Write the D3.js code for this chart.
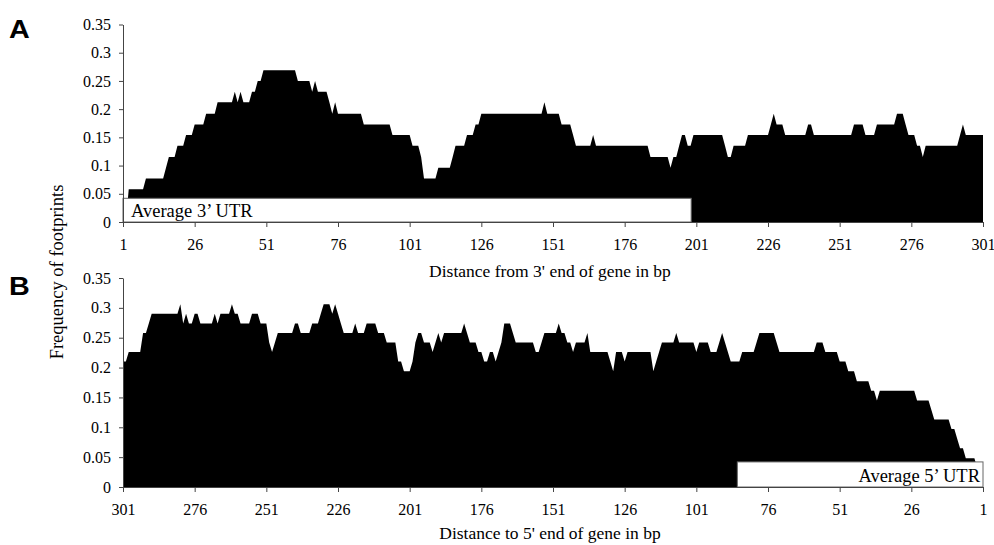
<!DOCTYPE html>
<html>
<head>
<meta charset="utf-8">
<script src="https://cdn.jsdelivr.net/npm/d3@7"></script>
<style>
  body { margin: 0; background: #fff; }
  svg { display: block; }
  .tick text { font-family: "Liberation Serif", "Times New Roman", serif; font-size: 16px; fill: #000; }
  .domain, .tick line { stroke: #444; }
</style>
</head>
<body>
<svg id="chart" width="994" height="545"></svg>
<script>
// y axis ticks, shared by both panels
var yTicks = [0, 0.05, 0.1, 0.15, 0.2, 0.25, 0.3, 0.35];
var yTickLabels = ["0", "0.05", "0.1", "0.15", "0.2", "0.25", "0.3", "0.35"];

// x ticks (bp)
var xTicksA = [1, 26, 51, 76, 101, 126, 151, 176, 201, 226, 251, 276, 301];
var xTicksB = [301, 276, 251, 226, 201, 176, 151, 126, 101, 76, 51, 26, 1];

// A: frequency of footprints at 1..301 bp from the 3' end
var freqA = [
  0, 0, 0.058, 0.058, 0.058, 0.058, 0.058, 0.058, 0.077, 0.077,
  0.077, 0.077, 0.077, 0.077, 0.077, 0.096, 0.115, 0.115, 0.115, 0.135,
  0.135, 0.135, 0.154, 0.154, 0.154, 0.173, 0.173, 0.173, 0.173, 0.192,
  0.192, 0.192, 0.192, 0.212, 0.212, 0.212, 0.212, 0.212, 0.212, 0.231,
  0.212, 0.231, 0.212, 0.212, 0.212, 0.231, 0.231, 0.25, 0.25, 0.269,
  0.269, 0.269, 0.269, 0.269, 0.269, 0.269, 0.269, 0.269, 0.269, 0.269,
  0.269, 0.25, 0.25, 0.25, 0.25, 0.25, 0.231, 0.25, 0.231, 0.231,
  0.231, 0.231, 0.212, 0.192, 0.212, 0.192, 0.192, 0.192, 0.192, 0.192,
  0.192, 0.192, 0.192, 0.192, 0.173, 0.173, 0.173, 0.173, 0.173, 0.173,
  0.173, 0.173, 0.173, 0.173, 0.154, 0.154, 0.154, 0.154, 0.154, 0.154,
  0.154, 0.135, 0.135, 0.135, 0.115, 0.077, 0.077, 0.077, 0.077, 0.077,
  0.096, 0.096, 0.096, 0.096, 0.096, 0.115, 0.135, 0.135, 0.135, 0.135,
  0.154, 0.154, 0.154, 0.173, 0.173, 0.192, 0.192, 0.192, 0.192, 0.192,
  0.192, 0.192, 0.192, 0.192, 0.192, 0.192, 0.192, 0.192, 0.192, 0.192,
  0.192, 0.192, 0.192, 0.192, 0.192, 0.192, 0.192, 0.212, 0.192, 0.192,
  0.192, 0.192, 0.192, 0.173, 0.173, 0.173, 0.173, 0.154, 0.135, 0.135,
  0.135, 0.135, 0.135, 0.135, 0.154, 0.135, 0.135, 0.135, 0.135, 0.135,
  0.135, 0.135, 0.135, 0.135, 0.135, 0.135, 0.135, 0.135, 0.135, 0.135,
  0.135, 0.135, 0.135, 0.135, 0.115, 0.115, 0.115, 0.115, 0.115, 0.115,
  0.115, 0.096, 0.115, 0.115, 0.135, 0.154, 0.154, 0.135, 0.135, 0.154,
  0.154, 0.154, 0.154, 0.154, 0.154, 0.154, 0.154, 0.154, 0.154, 0.154,
  0.135, 0.115, 0.115, 0.135, 0.135, 0.135, 0.135, 0.135, 0.154, 0.154,
  0.154, 0.154, 0.154, 0.154, 0.154, 0.154, 0.173, 0.192, 0.173, 0.173,
  0.173, 0.154, 0.154, 0.154, 0.154, 0.154, 0.154, 0.154, 0.154, 0.173,
  0.173, 0.154, 0.154, 0.154, 0.154, 0.154, 0.154, 0.154, 0.154, 0.154,
  0.154, 0.154, 0.154, 0.154, 0.154, 0.173, 0.173, 0.173, 0.173, 0.154,
  0.154, 0.154, 0.154, 0.173, 0.173, 0.173, 0.173, 0.173, 0.173, 0.173,
  0.192, 0.192, 0.192, 0.173, 0.154, 0.154, 0.154, 0.135, 0.135, 0.115,
  0.135, 0.135, 0.135, 0.135, 0.135, 0.135, 0.135, 0.135, 0.135, 0.135,
  0.135, 0.135, 0.154, 0.173, 0.154, 0.154, 0.154, 0.154, 0.154, 0.154,
  0.154
];

// B: frequency of footprints at 301..1 bp to the 5' end (left to right)
var freqB = [
  0.21, 0.21, 0.226, 0.226, 0.226, 0.226, 0.226, 0.258, 0.258, 0.274,
  0.29, 0.29, 0.29, 0.29, 0.29, 0.29, 0.29, 0.29, 0.29, 0.29,
  0.306, 0.274, 0.29, 0.274, 0.274, 0.29, 0.29, 0.274, 0.274, 0.274,
  0.274, 0.274, 0.29, 0.274, 0.29, 0.29, 0.29, 0.29, 0.306, 0.29,
  0.29, 0.274, 0.274, 0.274, 0.274, 0.29, 0.29, 0.29, 0.274, 0.274,
  0.274, 0.242, 0.226, 0.242, 0.258, 0.258, 0.258, 0.258, 0.258, 0.258,
  0.274, 0.274, 0.258, 0.258, 0.258, 0.258, 0.274, 0.274, 0.274, 0.29,
  0.306, 0.306, 0.306, 0.29, 0.306, 0.29, 0.274, 0.258, 0.258, 0.258,
  0.258, 0.274, 0.258, 0.258, 0.258, 0.274, 0.274, 0.274, 0.274, 0.258,
  0.258, 0.258, 0.242, 0.242, 0.242, 0.242, 0.21, 0.21, 0.194, 0.194,
  0.194, 0.21, 0.242, 0.258, 0.258, 0.242, 0.242, 0.242, 0.226, 0.242,
  0.258, 0.242, 0.258, 0.258, 0.258, 0.258, 0.258, 0.258, 0.258, 0.274,
  0.258, 0.242, 0.242, 0.242, 0.226, 0.226, 0.21, 0.21, 0.226, 0.226,
  0.21, 0.226, 0.242, 0.274, 0.274, 0.274, 0.258, 0.242, 0.242, 0.242,
  0.242, 0.242, 0.242, 0.242, 0.226, 0.226, 0.242, 0.258, 0.258, 0.258,
  0.258, 0.258, 0.274, 0.258, 0.258, 0.242, 0.242, 0.226, 0.242, 0.242,
  0.242, 0.242, 0.258, 0.226, 0.226, 0.226, 0.226, 0.226, 0.226, 0.226,
  0.21, 0.194, 0.226, 0.226, 0.226, 0.21, 0.226, 0.226, 0.226, 0.226,
  0.226, 0.226, 0.226, 0.226, 0.226, 0.194, 0.21, 0.226, 0.242, 0.242,
  0.242, 0.242, 0.242, 0.258, 0.242, 0.242, 0.242, 0.242, 0.242, 0.242,
  0.226, 0.242, 0.242, 0.242, 0.242, 0.226, 0.226, 0.226, 0.242, 0.258,
  0.242, 0.226, 0.21, 0.21, 0.21, 0.21, 0.226, 0.226, 0.226, 0.226,
  0.226, 0.242, 0.258, 0.258, 0.258, 0.258, 0.258, 0.258, 0.242, 0.226,
  0.226, 0.226, 0.226, 0.226, 0.226, 0.226, 0.226, 0.226, 0.226, 0.226,
  0.226, 0.226, 0.242, 0.242, 0.242, 0.226, 0.226, 0.226, 0.226, 0.226,
  0.21, 0.21, 0.21, 0.194, 0.194, 0.194, 0.177, 0.177, 0.177, 0.177,
  0.177, 0.161, 0.161, 0.145, 0.161, 0.161, 0.161, 0.161, 0.161, 0.161,
  0.161, 0.161, 0.161, 0.161, 0.161, 0.161, 0.161, 0.145, 0.145, 0.145,
  0.145, 0.145, 0.129, 0.113, 0.113, 0.113, 0.113, 0.113, 0.113, 0.097,
  0.097, 0.081, 0.065, 0.065, 0.048, 0.048, 0.048, 0.048, 0.032, 0.032,
  0.016
];

// average UTR boxes (bp span, frequency height)
var utrA = [1, 199.2];
var utrB = [86.7, 1];
var utrHeight = 0.042;

var svg = d3.select("#chart");
var serif = '"Liberation Serif", "Times New Roman", serif';

function drawPanel(p) {
  var x = d3.scaleLinear().domain(p.domain).range([123, 983]);
  var y = d3.scaleLinear().domain([0, 0.35]).range([p.y0, p.yTop]);
  var g = svg.append("g");

  var area = d3.area()
    .x(function (d, i) { return x(p.pos[i]); })
    .y0(y(0))
    .y1(function (d) { return y(d); });

  g.append("path")
    .datum(p.values)
    .attr("d", area)
    .attr("fill", "#000");

  var bx0 = Math.min(x(p.utr[0]), x(p.utr[1]));
  var bx1 = Math.max(x(p.utr[0]), x(p.utr[1]));
  g.append("rect")
    .attr("x", bx0)
    .attr("y", y(utrHeight))
    .attr("width", bx1 - bx0)
    .attr("height", y(0) - y(utrHeight))
    .attr("fill", "#fff")
    .attr("stroke", "#666")
    .attr("stroke-width", 1);

  g.append("text")
    .attr("x", p.labelEnd ? bx1 - 3 : bx0 + 8)
    .attr("y", y(0) - 5)
    .attr("text-anchor", p.labelEnd ? "end" : "start")
    .style("font-family", serif)
    .style("font-size", "18.5px")
    .text(p.utrLabel);

  g.append("g")
    .attr("transform", "translate(123,0)")
    .call(d3.axisLeft(y).tickValues(yTicks)
      .tickFormat(function (d, i) { return yTickLabels[i]; })
      .tickSize(4).tickSizeOuter(0).tickPadding(8));

  g.append("g")
    .attr("transform", "translate(0," + p.y0 + ")")
    .call(d3.axisBottom(x).tickValues(p.xTicks)
      .tickFormat(d3.format("d"))
      .tickSize(5).tickSizeOuter(0).tickPadding(11.5));

  g.append("text")
    .attr("x", 550)
    .attr("y", p.titleY)
    .attr("text-anchor", "middle")
    .style("font-family", serif)
    .style("font-size", "17.5px")
    .text(p.title);

  g.append("text")
    .attr("x", 9)
    .attr("y", p.letterY)
    .attr("transform", "translate(9," + p.letterY + ") scale(1.15,1) translate(-9," + (-p.letterY) + ")")
    .style("font-family", '"Liberation Sans", Arial, sans-serif')
    .style("font-weight", "bold")
    .style("font-size", "25px")
    .text(p.letter);
}

drawPanel({
  letter: "A", letterY: 38,
  domain: [1, 301], pos: d3.range(1, 302), values: freqA,
  xTicks: xTicksA, y0: 222, yTop: 24.5, titleY: 277,
  utr: utrA, utrLabel: "Average 3\u2019 UTR", labelEnd: false,
  title: "Distance from 3' end of gene in bp"
});

drawPanel({
  letter: "B", letterY: 295,
  domain: [301, 1], pos: d3.range(301, 0, -1), values: freqB,
  xTicks: xTicksB, y0: 487, yTop: 278, titleY: 539,
  utr: utrB, utrLabel: "Average 5\u2019 UTR", labelEnd: true,
  title: "Distance to 5' end of gene in bp"
});

svg.append("text")
  .attr("transform", "translate(63,272) rotate(-90)")
  .attr("text-anchor", "middle")
  .style("font-family", serif)
  .style("font-size", "18.5px")
  .text("Frequency of footprints");
</script>
</body>
</html>
